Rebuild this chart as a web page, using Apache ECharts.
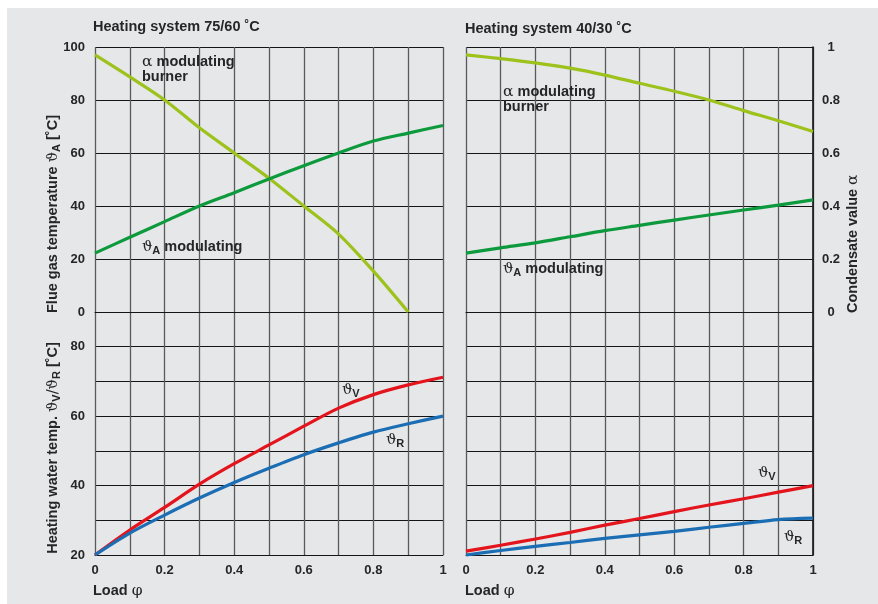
<!DOCTYPE html>
<html>
<head>
<meta charset="utf-8">
<script src="https://cdn.jsdelivr.net/npm/echarts@6/dist/echarts.min.js"></script>
<style>
  html, body { margin: 0; padding: 0; background: #ffffff; }
  #chart { width: 878px; height: 604px; }
</style>
</head>
<body>
<div id="chart"></div>
<script>
// Load φ (fraction of nominal heat output)
const loads = [0, 0.1, 0.2, 0.3, 0.4, 0.5, 0.6, 0.7, 0.8, 0.9, 1];

// Heating system 75/60 °C
const alpha7560 = [0.97, 0.887, 0.80, 0.695, 0.60, 0.505, 0.40, 0.294, 0.154, 0]; // up to φ = 0.9
const flue7560 = [22.2, 28.2, 34.1, 40, 45, 50.2, 55.2, 60, 64.5, 67.5, 70.4];
const supply7560 = [20, 27.2, 33.7, 40.4, 46.3, 51.7, 57.1, 62.3, 66.2, 69, 71.2];
const return7560 = [20, 26.3, 31.5, 36.4, 40.9, 45, 48.9, 52.3, 55.4, 57.8, 60];

// Heating system 40/30 °C
const alpha4030 = [0.970, 0.956, 0.940, 0.920, 0.894, 0.863, 0.833, 0.800, 0.760, 0.722, 0.681];
const flue4030 = [22.2, 24.2, 26.1, 28.4, 30.7, 32.7, 34.7, 36.6, 38.5, 40.3, 42.3];
const supply4030 = [21.1, 22.8, 24.6, 26.5, 28.6, 30.5, 32.5, 34.4, 36.2, 38.1, 40];
const return4030 = [20, 21.3, 22.5, 23.6, 24.8, 25.8, 26.8, 28, 29.1, 30.2, 30.6];

// Tick labels
const loadTicks = ['0', '0.2', '0.4', '0.6', '0.8', '1'];
const flueTicks = ['0', '20', '40', '60', '80', '100'];
const waterTicks = ['20', '40', '60', '80'];
const alphaTicks = ['0', '0.2', '0.4', '0.6', '0.8', '1'];

const FONT = '"Liberation Sans", Arial, Helvetica, sans-serif';
const SERIF = '"DejaVu Serif", "Liberation Serif", serif';
const TXT = '#262626';
const C_ALPHA = '#9dc21b';
const C_FLUE = '#0c9a3c';
const C_SUP = '#e3141c';
const C_RET = '#1b6db4';
const FS = 14.5;

const pairs = (ys) => ys.map((v, i) => [loads[i], v]);

function fmtFrom(list) {
  return (v) => {
    const s = String(Math.round(v * 1000) / 1000);
    return list.indexOf(s) >= 0 ? s : '';
  };
}

const vSplit = { show: true, lineStyle: { color: '#5a5a5a', width: 1.3 } };
const hSplit = { show: true, lineStyle: { color: '#151515', width: 1 } };
const labelStyle = { color: TXT, fontFamily: FONT, fontWeight: 'bold', fontSize: 13 };

function xAxis(gridIndex, showLabels) {
  return {
    type: 'value', gridIndex, min: 0, max: 1, interval: 0.1,
    axisLine: { show: true, onZero: false, lineStyle: { color: '#151515', width: 1 } },
    axisTick: { show: false },
    axisLabel: showLabels
      ? Object.assign({ show: true, margin: 9, formatter: fmtFrom(loadTicks) }, labelStyle)
      : { show: false },
    splitLine: vSplit
  };
}

function yAxis(gridIndex, min, max, interval, opts) {
  return Object.assign({
    type: 'value', gridIndex, min, max, interval,
    axisLine: { show: false, onZero: false },
    axisTick: { show: false },
    axisLabel: { show: false },
    splitLine: hSplit
  }, opts || {});
}

const lineSeries = (name, color, xi, yi, data) => ({
  name, type: 'line', xAxisIndex: xi, yAxisIndex: yi,
  data: pairs(data), smooth: 0.3,
  showSymbol: false, symbol: 'none', clip: false,
  lineStyle: { color, width: 3.2 }, z: 5
});

const richTheta = {
  b: { fontFamily: FONT, fontWeight: 'bold', fontSize: FS, color: TXT },
  th: { fontFamily: SERIF, fontWeight: 'normal', fontSize: FS, color: TXT },
  al: { fontFamily: SERIF, fontWeight: 'normal', fontSize: FS + 1, color: TXT },
  sub: { fontFamily: FONT, fontWeight: 'bold', fontSize: 11, color: TXT, padding: [8, 0, 0, 0] }
};

function note(x, y, text, extra) {
  return Object.assign({
    type: 'text', x, y, z: 10,
    style: { text, rich: richTheta, fill: TXT, align: 'left', verticalAlign: 'middle' }
  }, extra || {});
}

function rotated(x, y, text, align) {
  return {
    type: 'text', x, y, z: 10, rotation: Math.PI / 2,
    style: { text, rich: richTheta, fill: TXT, align, verticalAlign: 'middle' }
  };
}

const chart = echarts.init(document.getElementById('chart'), null, { renderer: 'canvas' });

chart.setOption({
  animation: false,
  backgroundColor: '#ffffff',
  grid: [
    { left: 95, right: 435, top: 47, height: 265 },
    { left: 95, right: 435, top: 312, height: 243 },
    { left: 466, right: 65, top: 47, height: 265 },
    { left: 466, right: 65, top: 312, height: 243 }
  ],
  xAxis: [
    xAxis(0, false),
    xAxis(1, true),
    xAxis(2, false),
    xAxis(3, true)
  ],
  yAxis: [
    // 0: flue gas temperature, left panel
    yAxis(0, 0, 100, 20, {
      position: 'left',
      axisLabel: Object.assign({ show: true, margin: 10, formatter: fmtFrom(flueTicks) }, labelStyle)
    }),
    // 1: condensate value, left panel (no labels)
    yAxis(0, 0, 1, 0.2, { position: 'right', splitLine: { show: false } }),
    // 2: heating water temperature, left panel
    yAxis(1, 20, 90, 10, {
      position: 'left',
      axisLabel: Object.assign({ show: true, margin: 10, formatter: fmtFrom(waterTicks) }, labelStyle)
    }),
    // 3: flue gas temperature, right panel (no labels)
    yAxis(2, 0, 100, 20, { position: 'left' }),
    // 4: condensate value, right panel
    yAxis(2, 0, 1, 0.2, {
      position: 'right',
      splitLine: { show: false },
      axisLine: { show: true, onZero: false, lineStyle: { color: '#151515', width: 1.6 } },
      axisLabel: Object.assign({ show: true, margin: 18, align: 'center', formatter: fmtFrom(alphaTicks) }, labelStyle)
    }),
    // 5: heating water temperature, right panel
    yAxis(3, 20, 90, 10, {
      position: 'right',
      axisLine: { show: true, onZero: false, lineStyle: { color: '#151515', width: 1.6 } }
    })
  ],
  series: [
    lineSeries('α 75/60', C_ALPHA, 0, 1, alpha7560),
    lineSeries('ϑA 75/60', C_FLUE, 0, 0, flue7560),
    lineSeries('ϑV 75/60', C_SUP, 1, 2, supply7560),
    lineSeries('ϑR 75/60', C_RET, 1, 2, return7560),
    lineSeries('α 40/30', C_ALPHA, 2, 4, alpha4030),
    lineSeries('ϑA 40/30', C_FLUE, 2, 3, flue4030),
    lineSeries('ϑV 40/30', C_SUP, 3, 5, supply4030),
    lineSeries('ϑR 40/30', C_RET, 3, 5, return4030)
  ],
  graphic: [
    // panel background
    { type: 'rect', z: -10, shape: { x: 7, y: 8, width: 871, height: 596 }, style: { fill: '#e6e7e9' } },
    // panel titles
    note(93, 27, '{b|Heating system 75/60 ˚C}'),
    note(465, 29, '{b|Heating system 40/30 ˚C}'),
    // axis names
    rotated(53, 214, '{b|Flue gas temperature }{th|ϑ}{sub|A}{b| [˚C]}', 'center'),
    rotated(53, 448, '{b|Heating water temp. }{th|ϑ}{sub|V}{th|/ϑ}{sub|R}{b| [˚C]}', 'center'),
    rotated(853, 313, '{b|Condensate value }{al|α}', 'left'),
    note(93, 591, '{b|Load }{al|φ}'),
    note(465, 591, '{b|Load }{al|φ}'),
    // curve annotations, left panel
    note(142, 62, '{al|α}{b| modulating}'),
    note(142, 77, '{b|burner}'),
    note(142, 247, '{th|ϑ}{sub|A}{b| modulating}'),
    note(342, 390, '{th|ϑ}{sub|V}'),
    note(386, 440, '{th|ϑ}{sub|R}'),
    // curve annotations, right panel
    note(503, 92, '{al|α}{b| modulating}'),
    note(503, 107, '{b|burner}'),
    note(503, 269, '{th|ϑ}{sub|A}{b| modulating}'),
    note(758, 473, '{th|ϑ}{sub|V}'),
    note(784, 537, '{th|ϑ}{sub|R}')
  ]
});
</script>
</body>
</html>
